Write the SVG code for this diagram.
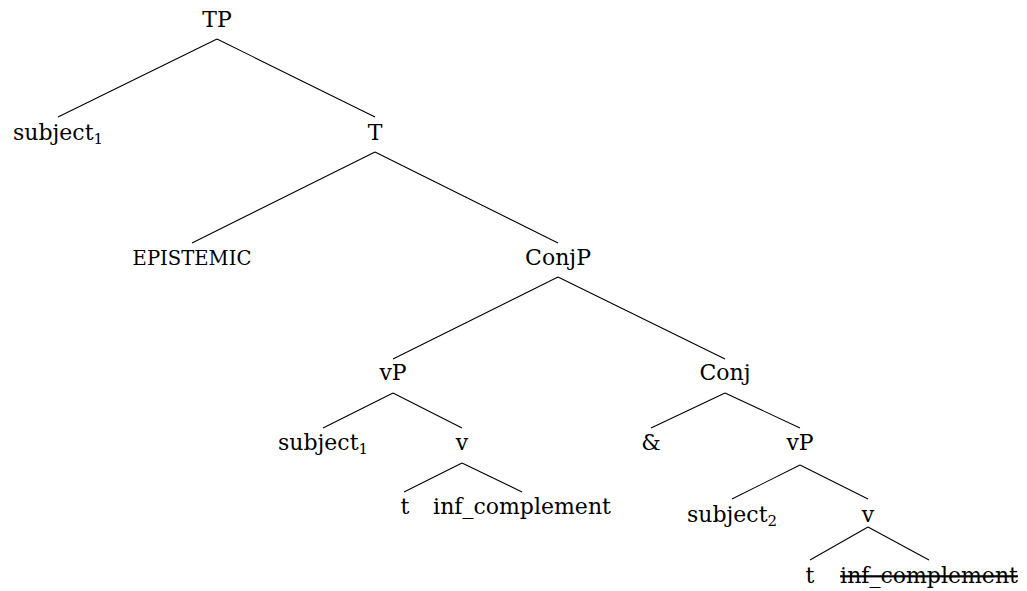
<svg xmlns="http://www.w3.org/2000/svg" width="1027" height="591" viewBox="0 0 1027 591">
<style>
text{font-family:"DejaVu Serif","Liberation Serif",serif;font-size:22px;fill:#000;text-anchor:middle}
.sc{font-size:19.6px}
.sub{font-size:15px}
.strike{text-decoration:line-through}
#edges line{stroke:#000;stroke-width:1.1}
</style>
<rect width="1027" height="591" fill="#fff"/>
<g id="edges">
<line x1="217" y1="39" x2="58" y2="117"/>
<line x1="217" y1="39" x2="375" y2="117"/>
<line x1="375" y1="152" x2="192" y2="243"/>
<line x1="375" y1="152" x2="558" y2="243"/>
<line x1="558" y1="277" x2="393" y2="359"/>
<line x1="558" y1="277" x2="725" y2="359"/>
<line x1="393" y1="393" x2="323" y2="428"/>
<line x1="393" y1="393" x2="462" y2="428"/>
<line x1="462" y1="463" x2="404" y2="492"/>
<line x1="462" y1="463" x2="522" y2="492"/>
<line x1="725" y1="393" x2="651" y2="428"/>
<line x1="725" y1="393" x2="800" y2="428"/>
<line x1="800" y1="465" x2="732" y2="499"/>
<line x1="800" y1="465" x2="868" y2="499"/>
<line x1="868" y1="527" x2="810" y2="560"/>
<line x1="868" y1="527" x2="929" y2="560"/>
</g>
<g id="n-TP"><text x="217" y="27">TP</text></g>
<g id="n-subj1a"><text x="58" y="140">subject<tspan class="sub" dy="4">1</tspan></text></g>
<g id="n-T"><text x="375" y="140">T</text></g>
<g id="n-epistemic"><text class="sc" x="192" y="265">EPISTEMIC</text></g>
<g id="n-ConjP"><text x="558" y="265">ConjP</text></g>
<g id="n-vP1"><text x="393" y="380">vP</text></g>
<g id="n-Conj"><text x="725" y="380">Conj</text></g>
<g id="n-subj1b"><text x="323" y="450">subject<tspan class="sub" dy="4">1</tspan></text></g>
<g id="n-v1"><text x="462" y="450">v</text></g>
<g id="n-amp"><text x="651" y="450">&amp;</text></g>
<g id="n-vP2"><text x="800" y="450">vP</text></g>
<g id="n-t1"><text x="405" y="514">t</text></g>
<g id="n-inf1"><text x="522" y="514">inf_complement</text></g>
<g id="n-subj2"><text x="732" y="522">subject<tspan class="sub" dy="4">2</tspan></text></g>
<g id="n-v2"><text x="868" y="522">v</text></g>
<g id="n-t2"><text x="810" y="583">t</text></g>
<g id="n-inf2"><text class="strike" x="929" y="583">inf_complement</text></g>
</svg>
